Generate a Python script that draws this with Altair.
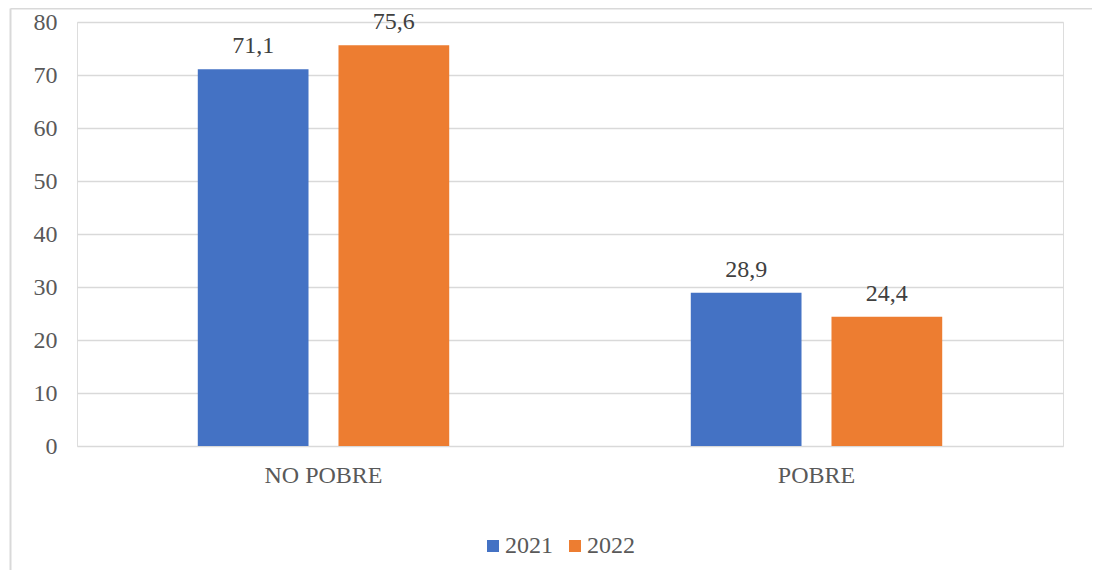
import altair as alt
import pandas as pd

categories = ["NO POBRE", "NO POBRE", "POBRE", "POBRE"]
years = ["2021", "2022", "2021", "2022"]
values = [71.1, 75.6, 28.9, 24.4]

df = pd.DataFrame({"cat": categories, "year": years, "value": values})

FONT = "Liberation Serif"
FS = 24
W, H = 986, 424
PL, PT, PR, PB = 69, 14, 29, 124

color = alt.Color(
    "year:N",
    scale=alt.Scale(domain=["2021", "2022"], range=["#4472C4", "#ED7D31"]),
    legend=alt.Legend(
        title=None, orient="none", direction="horizontal",
        legendX=404, legendY=512,
        symbolType="square", symbolSize=144, symbolStrokeWidth=0,
        labelFont=FONT, labelFontSize=FS, labelColor="#595959",
        labelOffset=0, columnPadding=10, symbolOpacity=1,
    ),
)

x = alt.X("cat:N", title=None,
          scale=alt.Scale(paddingInner=0.49, paddingOuter=0.245),
          axis=alt.Axis(labelAngle=0, labelFont=FONT, labelFontSize=FS,
                        labelColor="#595959", ticks=False, domain=False,
                        labelPadding=17, grid=False))
xo = alt.XOffset("year:N", scale=alt.Scale(paddingInner=0.213, paddingOuter=0))
y = alt.Y("value:Q", title=None,
          scale=alt.Scale(domain=[0, 80], nice=False),
          axis=alt.Axis(values=[0, 10, 20, 30, 40, 50, 60, 70, 80],
                        labelFont=FONT, labelFontSize=FS, labelColor="#595959",
                        ticks=False, domain=False, labelPadding=20,
                        gridColor="#d9d9d9", gridWidth=1.5))

base = alt.Chart(df)

bars = base.mark_bar().encode(x=x, xOffset=xo, y=y, color=color)

labels = base.transform_calculate(
    lab="replace(format(datum.value, '.1f'), '.', ',')"
).mark_text(font=FONT, fontSize=FS, color="#404040", baseline="alphabetic", dy=-16).encode(
    x=x, xOffset=xo, y=y, text="lab:N"
)

frame_top = alt.Chart(pd.DataFrame({"a": [0]})).mark_rule(color="#d9d9d9", strokeWidth=2).encode(
    x=alt.value(-PL + 2.5), x2=alt.value(W + PR + 5), y=alt.value(-PT + 0.5)
)
frame_left = alt.Chart(pd.DataFrame({"a": [0]})).mark_rule(color="#d9d9d9", strokeWidth=2).encode(
    x=alt.value(-PL + 2.5), y=alt.value(-PT + 0.5), y2=alt.value(H + PB + 5)
)

chart = alt.layer(bars, labels, frame_top, frame_left).properties(
    width=W, height=H,
    padding={"left": PL, "top": PT, "right": PR, "bottom": PB},
    autosize=alt.AutoSizeParams(type="none"),
).configure_view(stroke=None).configure(background="white", font=FONT)

chart.save("out.html", embed_options={"renderer": "svg", "actions": False})
